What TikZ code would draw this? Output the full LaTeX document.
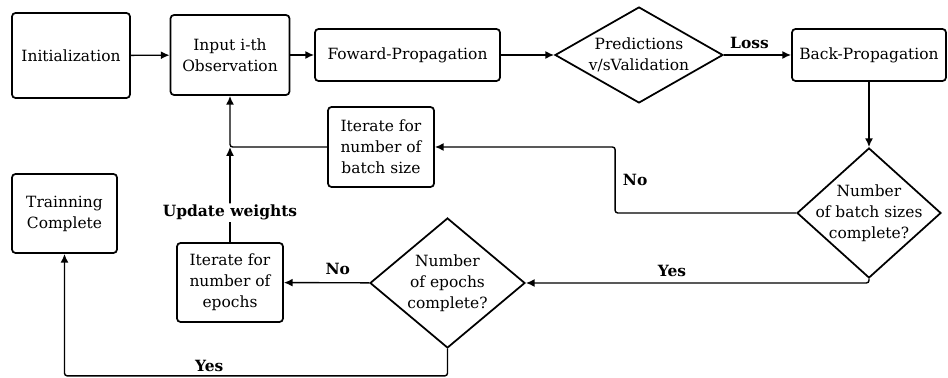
\documentclass[tikz,border=0pt]{standalone}
\usepackage{fontspec}
\setmainfont{DejaVu Serif}
\usetikzlibrary{shapes.geometric,arrows.meta}

\begin{document}
\begin{tikzpicture}[x=0.02cm, y=-0.02cm,
    font=\fontsize{8.8}{12}\selectfont,
    box/.style={draw, line width=1pt, rounded corners=2pt, align=center, inner sep=0pt},
    decision/.style={draw, diamond, line width=1pt, align=center, inner sep=-20pt},
    flow/.style={line width=0.8pt, rounded corners=1.5pt, -{Latex[length=5pt,width=4.5pt]}},
    tag/.style={font=\fontsize{8.8}{12}\selectfont\bfseries, inner sep=1pt}]
    \useasboundingbox (0,0) rectangle (948,378);

    % top row
    \node[box, minimum width=2.36cm, minimum height=1.70cm] (init) at (71,55.5) {Initialization};
    \node[box, minimum width=2.38cm, minimum height=1.60cm] (input) at (230,55) {Input i-th\\Observation};
    \node[box, minimum width=3.70cm, minimum height=1.04cm] (fwd) at (407.5,55) {Foward-Propagation};
    \node[decision, minimum width=3.36cm, minimum height=1.92cm] (pred) at (639,55) {Predictions\\v/sValidation};
    \node[box, minimum width=3.08cm, minimum height=1.04cm] (back) at (869,55) {Back-Propagation};

    % loops
    \node[decision, minimum width=2.88cm, minimum height=2.60cm] (batchdec) at (869,213) {Number\\of batch sizes\\complete?};
    \node[box, minimum width=2.12cm, minimum height=1.60cm] (batchit) at (381,147) {Iterate for\\number of\\batch size};
    \node[decision, minimum width=3.10cm, minimum height=2.60cm] (epochdec) at (447.5,283) {Number\\of epochs\\complete?};
    \node[box, minimum width=2.12cm, minimum height=1.58cm] (epochit) at (230,282.5) {Iterate for\\number of\\epochs};
    \node[box, minimum width=2.10cm, minimum height=1.58cm] (train) at (64.5,213.5) {Trainning\\Complete};
    \coordinate (join) at (epochit.north |- batchit.west);

    \draw[flow] (init) -- (input);
    \draw[flow] (input) -- (fwd);
    \draw[flow] (fwd) -- (pred);
    \draw[flow] (pred) -- node[tag, pos=0.38, above=2pt] {Loss} (back);
    \draw[flow] (back) -- (batchdec);
    \draw[flow] (batchdec.west) -- ++(-181,0) |- node[tag, pos=0.25, right=3pt] {No} (batchit.east);
    \draw[flow] (batchdec.south) |- node[tag, pos=0.787, above=2pt] {Yes} (epochdec.east);
    \draw[flow] (epochdec) -- node[tag, pos=0.37, above=3pt] {No} (epochit);
    \draw[flow] (epochdec.south) -- ++(0,27) -| node[tag, pos=0.311, above=1pt] {Yes} (train.south);
    \draw[flow] (epochit) -- node[tag, fill=white, pos=0.31] {Update weights} (join);
    \draw[flow] (batchit.west) -- (join) -- (input.south);
\end{tikzpicture}
\end{document}
